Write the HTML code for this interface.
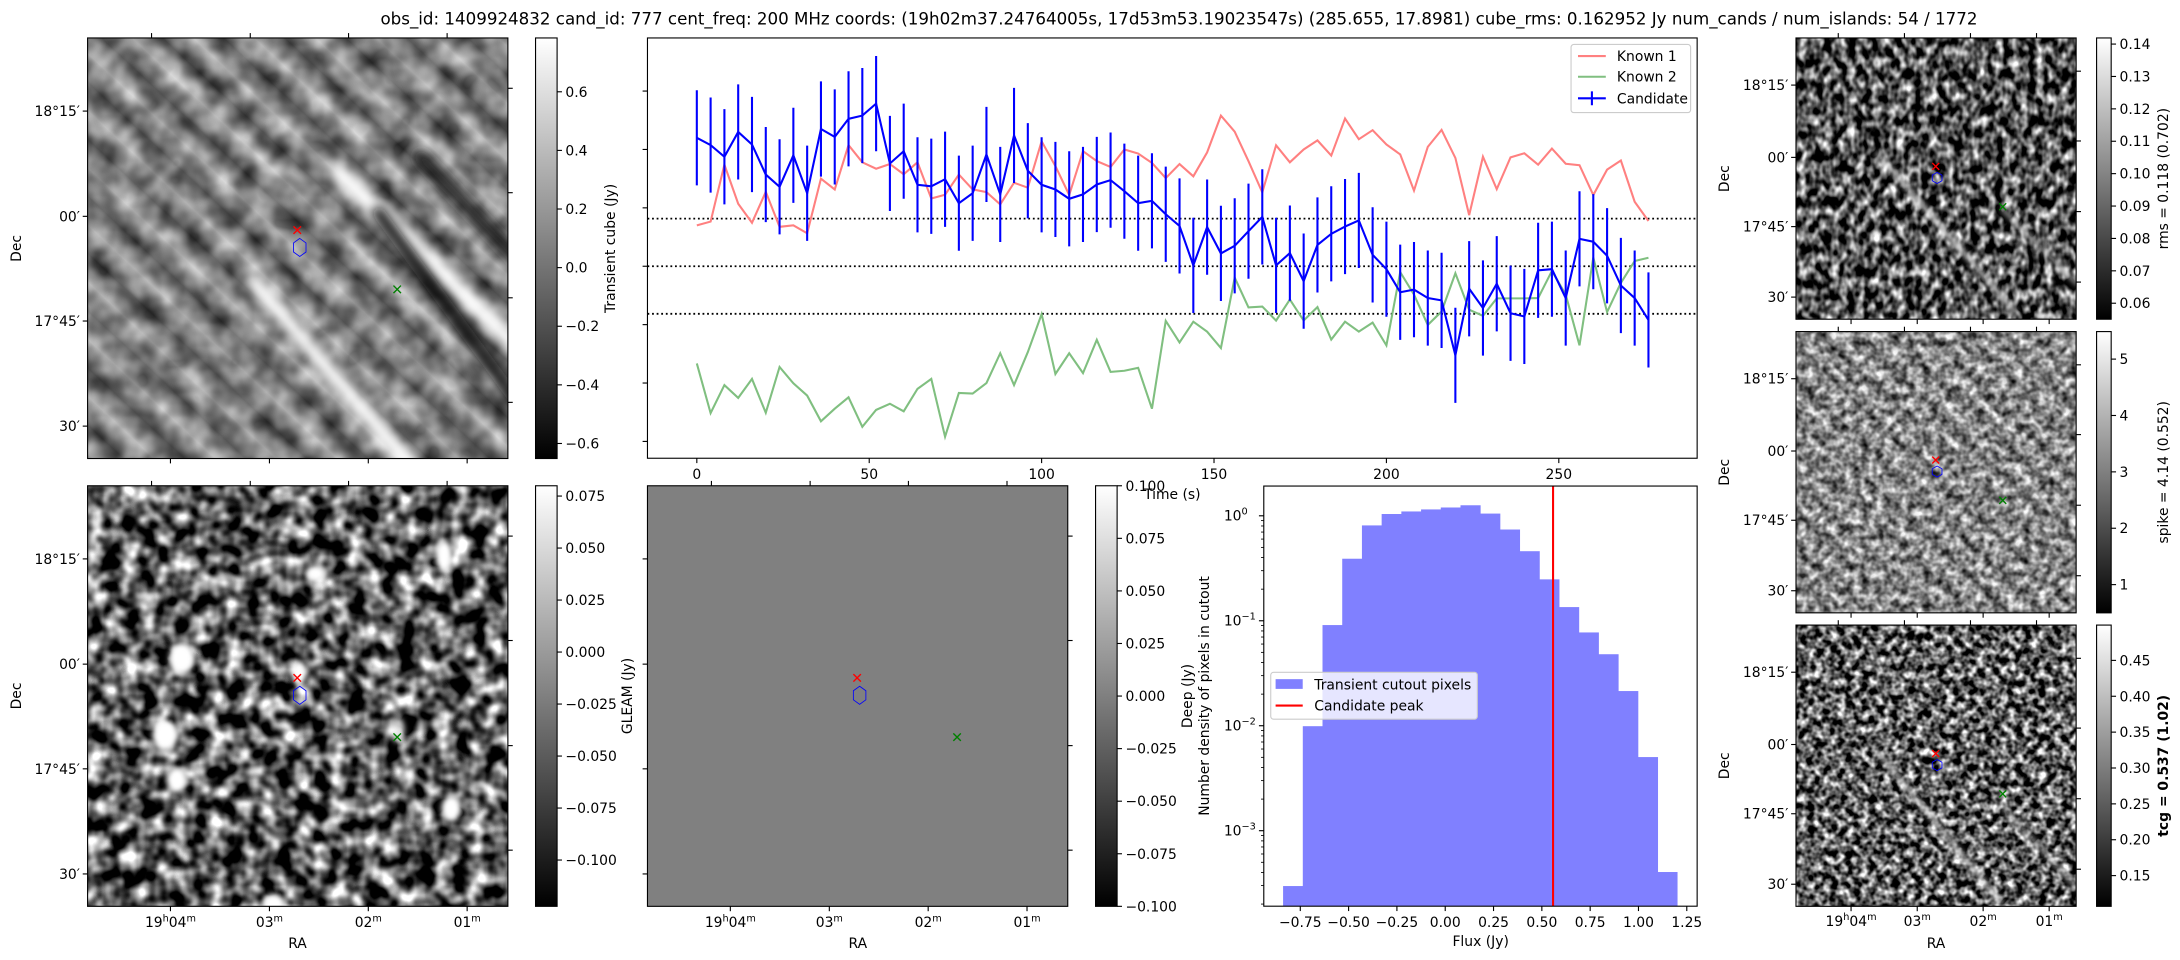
<!DOCTYPE html>
<html><head><meta charset="utf-8"><title>Candidate summary</title>
<style>
html,body{margin:0;padding:0;background:#fff;}
svg{display:block;font-family:"DejaVu Sans","Liberation Sans",sans-serif;}
text{fill:#000;}
</style></head>
<body>
<svg id="fig" width="2180" height="960" viewBox="0 0 1568 690.5" preserveAspectRatio="none" xmlns="http://www.w3.org/2000/svg">
<defs>
 <filter id="nB" x="0" y="0" width="100%" height="100%" color-interpolation-filters="sRGB">
  <feTurbulence type="fractalNoise" baseFrequency="0.08" numOctaves="2" seed="3"/>
  <feColorMatrix type="matrix" values="2.3 0 0 0 -0.78  2.3 0 0 0 -0.78  2.3 0 0 0 -0.78  0 0 0 0 1"/>
 </filter>
 <filter id="nA" x="0" y="0" width="100%" height="100%" color-interpolation-filters="sRGB">
  <feTurbulence type="fractalNoise" baseFrequency="0.06" numOctaves="2" seed="7"/>
  <feColorMatrix type="matrix" values="2.0 0 0 0 -0.5  2.0 0 0 0 -0.5  2.0 0 0 0 -0.5  0 0 0 0 1"/>
 </filter>
 <filter id="nR1" x="0" y="0" width="100%" height="100%" color-interpolation-filters="sRGB">
  <feTurbulence type="fractalNoise" baseFrequency="0.17 0.12" numOctaves="2" seed="11"/>
  <feColorMatrix type="matrix" values="2.2 0 0 0 -0.78  2.2 0 0 0 -0.78  2.2 0 0 0 -0.78  0 0 0 0 1"/>
 </filter>
 <filter id="nR2" x="0" y="0" width="100%" height="100%" color-interpolation-filters="sRGB">
  <feTurbulence type="fractalNoise" baseFrequency="0.18" numOctaves="2" seed="5"/>
  <feColorMatrix type="matrix" values="1.7 0 0 0 -0.3  1.7 0 0 0 -0.3  1.7 0 0 0 -0.3  0 0 0 0 1"/>
 </filter>
 <filter id="nR3" x="0" y="0" width="100%" height="100%" color-interpolation-filters="sRGB">
  <feTurbulence type="fractalNoise" baseFrequency="0.18" numOctaves="2" seed="21"/>
  <feColorMatrix type="matrix" values="2.3 0 0 0 -0.78  2.3 0 0 0 -0.78  2.3 0 0 0 -0.78  0 0 0 0 1"/>
 </filter>
 <filter id="blur3"><feGaussianBlur stdDeviation="4"/></filter>
 <filter id="blur2"><feGaussianBlur stdDeviation="2"/></filter>
 <linearGradient id="cbar" x1="0" y1="1" x2="0" y2="0"><stop offset="0" stop-color="#000"/><stop offset="1" stop-color="#fff"/></linearGradient>
 <linearGradient id="stripeA" gradientUnits="userSpaceOnUse" x1="0" y1="0" x2="20.5" y2="-21.9" spreadMethod="repeat">
  <stop offset="0" stop-color="#3a3a3a"/><stop offset="0.5" stop-color="#c4c4c4"/><stop offset="1" stop-color="#3a3a3a"/>
 </linearGradient>
 <linearGradient id="stripeM" gradientUnits="userSpaceOnUse" x1="0" y1="0" x2="12" y2="-12.8" spreadMethod="repeat">
  <stop offset="0" stop-color="#000" stop-opacity="0.3"/><stop offset="0.5" stop-color="#fff" stop-opacity="0.15"/><stop offset="1" stop-color="#000" stop-opacity="0.3"/>
 </linearGradient>
 <clipPath id="cA"><rect x="63" y="27.3" width="302.3" height="302.5"/></clipPath>
 <clipPath id="cB"><rect x="63" y="349.4" width="302.3" height="302.5"/></clipPath>
 <clipPath id="cR1"><rect x="1291.8" y="27.3" width="201.5" height="202.3"/></clipPath>
 <clipPath id="cR2"><rect x="1291.8" y="238.5" width="201.5" height="202.3"/></clipPath>
 <clipPath id="cR3"><rect x="1291.8" y="449.6" width="201.5" height="202.3"/></clipPath>
</defs>

<text x="848" y="17.5" font-size="12" text-anchor="middle">obs_id: 1409924832 cand_id: 777 cent_freq: 200 MHz coords: (19h02m37.24764005s, 17d53m53.19023547s) (285.655, 17.8981) cube_rms: 0.162952 Jy num_cands / num_islands: 54 / 1772</text>

<g clip-path="url(#cA)">
 <rect x="63" y="27.3" width="302.3" height="302.5" fill="url(#stripeA)"/>
 <rect x="63" y="27.3" width="302.3" height="302.5" filter="url(#nA)" opacity="0.35"/>
 <line x1="240" y1="120" x2="380" y2="258" stroke="#fff" stroke-width="12" filter="url(#blur3)"/>
 <line x1="180" y1="200" x2="300" y2="340" stroke="#fff" stroke-width="11" filter="url(#blur3)"/>
 <line x1="270" y1="150" x2="380" y2="300" stroke="#111" stroke-width="9" filter="url(#blur3)"/>
 <line x1="300" y1="110" x2="380" y2="195" stroke="#222" stroke-width="8" filter="url(#blur3)"/>
</g>
<rect x="63" y="27.3" width="302.3" height="302.5" fill="none" stroke="#000" stroke-width="0.8"/>

<g clip-path="url(#cB)">
 <rect x="63" y="349.4" width="302.3" height="302.5" filter="url(#nB)"/>
 <g fill="#fff" filter="url(#blur2)">
  <ellipse cx="130.8" cy="473.6" rx="9" ry="11"/>
  <ellipse cx="118.7" cy="528.7" rx="9" ry="11"/>
  <ellipse cx="127.2" cy="561" rx="7" ry="9"/>
  <ellipse cx="227" cy="412.5" rx="7" ry="6"/>
  <ellipse cx="319.4" cy="400" rx="6" ry="11"/>
  <ellipse cx="324.6" cy="581.5" rx="7" ry="9"/>
  <ellipse cx="196.8" cy="650" rx="8" ry="7"/>
  <ellipse cx="286" cy="525" rx="5" ry="9" opacity="0.8"/>
  <ellipse cx="215" cy="484" rx="5" ry="8"/>
 </g>
</g>
<rect x="63" y="349.4" width="302.3" height="302.5" fill="none" stroke="#000" stroke-width="0.8"/>

<rect x="465.7" y="349.4" width="302.3" height="302.5" fill="#808080" stroke="#000" stroke-width="0.8"/>

<g clip-path="url(#cR1)">
 <rect x="1291.8" y="27.3" width="201.5" height="202.3" filter="url(#nR1)"/>
 <line x1="1350" y1="110" x2="1450" y2="225" stroke="#ddd" stroke-width="3" filter="url(#blur2)"/>
 <line x1="1440" y1="150" x2="1495" y2="205" stroke="#bbb" stroke-width="2.5" filter="url(#blur2)"/>
</g>
<rect x="1291.8" y="27.3" width="201.5" height="202.3" fill="none" stroke="#000" stroke-width="0.8"/>
<g clip-path="url(#cR2)">
 <rect x="1291.8" y="238.5" width="201.5" height="202.3" filter="url(#nR2)"/>
 <rect x="1291.8" y="238.5" width="201.5" height="202.3" fill="url(#stripeM)"/>
</g>
<rect x="1291.8" y="238.5" width="201.5" height="202.3" fill="none" stroke="#000" stroke-width="0.8"/>
<g clip-path="url(#cR3)">
 <rect x="1291.8" y="449.6" width="201.5" height="202.3" filter="url(#nR3)"/>
 <line x1="1350" y1="540" x2="1440" y2="650" stroke="#ccc" stroke-width="3" filter="url(#blur2)"/>
 <line x1="1440" y1="580" x2="1495" y2="640" stroke="#aaa" stroke-width="2.5" filter="url(#blur2)"/>
</g>
<rect x="1291.8" y="449.6" width="201.5" height="202.3" fill="none" stroke="#000" stroke-width="0.8"/>

<g id="markers"></g>
<g id="axes" font-size="10"></g>
<g id="cbars" font-size="10"></g>

<text transform="translate(15,178.7) rotate(-90)" font-size="10" text-anchor="middle">Dec</text>
<text transform="translate(15,500.6) rotate(-90)" font-size="10" text-anchor="middle">Dec</text>
<text x="214" y="682" font-size="10" text-anchor="middle">RA</text>
<text x="617" y="682" font-size="10" text-anchor="middle">RA</text>
<text x="1392.5" y="682" font-size="10" text-anchor="middle">RA</text>
<text transform="translate(442.5,178.7) rotate(-90)" font-size="10" text-anchor="middle">Transient cube (Jy)</text>
<text transform="translate(454.5,500.6) rotate(-90)" font-size="10" text-anchor="middle">GLEAM (Jy)</text>
<text transform="translate(1243.5,128.5) rotate(-90)" font-size="10" text-anchor="middle">Dec</text>
<text transform="translate(1243.5,339.7) rotate(-90)" font-size="10" text-anchor="middle">Dec</text>
<text transform="translate(1243.5,550.8) rotate(-90)" font-size="10" text-anchor="middle">Dec</text>
<text transform="translate(1559.5,128.5) rotate(-90)" font-size="10" text-anchor="middle">rms = 0.118 (0.702)</text>
<text transform="translate(1559.5,339.7) rotate(-90)" font-size="10" text-anchor="middle">spike = 4.14 (0.552)</text>
<text transform="translate(1559.5,550.8) rotate(-90)" font-size="10" font-weight="bold" text-anchor="middle">tcg = 0.537 (1.02)</text>

<g id="lc" font-size="10">
 <rect x="465.7" y="27.3" width="755" height="302.3" fill="#fff" stroke="none"/>
</g>
<text x="843.2" y="359" font-size="10" text-anchor="middle">Time (s)</text>

<g id="hist" font-size="10"></g>
<text transform="translate(869.5,500.6) rotate(-90)" font-size="10" text-anchor="middle">Number density of pixels in cutout</text>
<text transform="translate(857.5,500.6) rotate(-90)" font-size="10" text-anchor="middle">Deep (Jy)</text>
<text x="1065" y="680.5" font-size="10" text-anchor="middle">Flux (Jy)</text>
</svg>

<script>
const times = [0,4,8,12,16,20,24,28,32,36,40,44,48,52,56,60,64,68,72,76,80,84,88,92,96,100,104,108,112,116,120,124,128,132,136,140,144,148,152,156,160,164,168,172,176,180,184,188,192,196,200,204,208,212,216,220,224,228,232,236,240,244,248,252,256,260,264,268,272,276];
const known1 = [0.14,0.153,0.348,0.214,0.149,0.255,0.135,0.14,0.113,0.3,0.263,0.415,0.356,0.334,0.35,0.315,0.356,0.232,0.245,0.314,0.263,0.254,0.212,0.286,0.269,0.428,0.343,0.244,0.394,0.36,0.34,0.4,0.386,0.354,0.302,0.35,0.308,0.39,0.516,0.461,0.36,0.253,0.414,0.356,0.4,0.431,0.379,0.506,0.435,0.466,0.417,0.383,0.259,0.409,0.467,0.371,0.175,0.375,0.264,0.373,0.387,0.348,0.403,0.351,0.346,0.244,0.331,0.362,0.221,0.155];
const known2 = [-0.333,-0.503,-0.407,-0.451,-0.386,-0.502,-0.345,-0.401,-0.443,-0.531,-0.488,-0.449,-0.55,-0.492,-0.471,-0.497,-0.42,-0.386,-0.584,-0.434,-0.436,-0.4,-0.298,-0.407,-0.294,-0.164,-0.369,-0.298,-0.366,-0.252,-0.362,-0.358,-0.348,-0.488,-0.187,-0.261,-0.19,-0.224,-0.28,-0.039,-0.141,-0.138,-0.186,-0.114,-0.186,-0.14,-0.251,-0.19,-0.224,-0.193,-0.271,-0.02,-0.097,-0.201,-0.155,-0.024,-0.149,-0.17,-0.11,-0.11,-0.11,-0.109,-0.016,-0.097,-0.271,0.03,-0.157,-0.057,0.018,0.029];
const candidate = [0.44,0.415,0.375,0.46,0.417,0.314,0.272,0.38,0.25,0.47,0.443,0.505,0.516,0.557,0.352,0.394,0.279,0.274,0.298,0.216,0.25,0.383,0.246,0.448,0.327,0.279,0.263,0.231,0.246,0.28,0.295,0.257,0.216,0.224,0.178,0.138,0.003,0.134,0.044,0.07,0.12,0.169,0.003,0.045,-0.051,0.073,0.111,0.136,0.157,0.039,-0.01,-0.089,-0.08,-0.109,-0.117,-0.305,-0.077,-0.143,-0.06,-0.161,-0.172,-0.014,-0.01,-0.109,0.094,0.084,0.036,-0.066,-0.109,-0.184];
const candErr = 0.163;
const cubeRms = 0.163;
const lcXTicks = [0,50,100,150,200,250];
const lcYTicks = [0.6,0.4,0.2,0.0,-0.2,-0.4,-0.6];

const binEdges = [-0.839,-0.737,-0.635,-0.533,-0.431,-0.329,-0.227,-0.125,-0.023,0.079,0.181,0.283,0.385,0.487,0.589,0.691,0.793,0.895,0.997,1.099,1.2];
const densities = [2.97e-4,0.0099,0.091,0.39,0.81,1.04,1.10,1.15,1.20,1.26,1.05,0.74,0.46,0.248,0.135,0.0774,0.048,0.0214,0.00503,4.04e-4];
const candidatePeak = 0.558;
const histXTicks = [-0.75,-0.5,-0.25,0,0.25,0.5,0.75,1.0,1.25];
const histXTickLabels = ["\u22120.75","\u22120.50","\u22120.25","0.00","0.25","0.50","0.75","1.00","1.25"];
const histYDecades = [0,-1,-2,-3];

const NS = 'http://www.w3.org/2000/svg';
function el(tag, parent){ const e = document.createElementNS(NS, tag); parent.appendChild(e); return e; }
function fmtNeg(s){ return s.replace('-', '\u2212'); }

const LC = {l:465.7, r:1220.7, t:27.3, b:329.6};
function lcX(t){ return 501.2 + 2.48 * t; }
function lcY(v){ return 191.5 - 210 * v; }
const H = {l:909, r:1220.7, t:349.6, b:651.8};
function hX(f){ return 1039.5 + 139 * f; }
function hY(d){ return 371 - 75.5 * Math.log10(d); }

(function(){
 const g = document.getElementById('lc');
 [cubeRms, 0, -cubeRms].forEach(function(v){
  const ln = el('line', g);
  
  
  ln.setAttribute('x1', LC.l); ln.setAttribute('x2', LC.r);
  ln.setAttribute('y1', lcY(v)); ln.setAttribute('y2', lcY(v));
  ln.setAttribute('stroke', '#000'); ln.setAttribute('stroke-width', '1.3'); ln.setAttribute('stroke-dasharray', '1.3 2');
 });
 function series(vals, color, name){
  const p = el('polyline', g);
  
  
  p.setAttribute('points', vals.map(function(v,i){ return lcX(times[i]).toFixed(2)+','+lcY(v).toFixed(2); }).join(' '));
  p.setAttribute('fill', 'none'); p.setAttribute('stroke', color); p.setAttribute('stroke-width', '1.5');
 }
 series(known1, '#ff8080', 'known-1-line');
 series(known2, '#80bf80', 'known-2-line');
 candidate.forEach(function(v,i){
  const e = el('line', g);
  
  
  e.setAttribute('x1', lcX(times[i])); e.setAttribute('x2', lcX(times[i]));
  e.setAttribute('y1', lcY(v + candErr)); e.setAttribute('y2', lcY(v - candErr));
  e.setAttribute('stroke', '#0000ff'); e.setAttribute('stroke-width', '1.5');
 });
 series(candidate, '#0000ff', 'candidate-line');
 const frame = el('rect', g);
 
 
 frame.setAttribute('x', LC.l); frame.setAttribute('y', LC.t); frame.setAttribute('width', LC.r-LC.l); frame.setAttribute('height', LC.b-LC.t);
 frame.setAttribute('fill', 'none'); frame.setAttribute('stroke', '#000'); frame.setAttribute('stroke-width', '0.8');
 lcXTicks.forEach(function(t){
  const tk = el('line', g);
  
  
  tk.setAttribute('x1', lcX(t)); tk.setAttribute('x2', lcX(t)); tk.setAttribute('y1', LC.b); tk.setAttribute('y2', LC.b+3.5);
  tk.setAttribute('stroke', '#000'); tk.setAttribute('stroke-width', '0.8');
  const tx = el('text', g);
  
  
  tx.setAttribute('x', lcX(t)); tx.setAttribute('y', LC.b+15); tx.setAttribute('text-anchor', 'middle');
  tx.textContent = String(t);
 });
 lcYTicks.forEach(function(v){
  const tk = el('line', g);
  
  
  tk.setAttribute('x1', LC.l-3.5); tk.setAttribute('x2', LC.l); tk.setAttribute('y1', lcY(v)); tk.setAttribute('y2', lcY(v));
  tk.setAttribute('stroke', '#000'); tk.setAttribute('stroke-width', '0.8');
 });
 const lg = el('g', g);
 
 
 const box = el('rect', lg);
 box.setAttribute('x', 1130); box.setAttribute('y', 32); box.setAttribute('width', 86); box.setAttribute('height', 49); box.setAttribute('rx', 2);
 box.setAttribute('fill', '#fff'); box.setAttribute('fill-opacity', '0.8'); box.setAttribute('stroke', '#ccc'); box.setAttribute('stroke-width', '0.8');
 const items = [['Known 1','#ff8080',40.3,false],['Known 2','#80bf80',55.2,false],['Candidate','#0000ff',70.7,true]];
 items.forEach(function(it){
  const ln = el('line', lg);
  
  
  ln.setAttribute('x1', 1135); ln.setAttribute('x2', 1155); ln.setAttribute('y1', it[2]); ln.setAttribute('y2', it[2]);
  ln.setAttribute('stroke', it[1]); ln.setAttribute('stroke-width', '1.5');
  if (it[3]) {
   const v = el('line', lg);
   v.setAttribute('x1', 1145); v.setAttribute('x2', 1145); v.setAttribute('y1', it[2]-5); v.setAttribute('y2', it[2]+5);
   v.setAttribute('stroke', it[1]); v.setAttribute('stroke-width', '1.5');
  }
  const tx = el('text', lg);
  
  
  tx.setAttribute('x', 1163); tx.setAttribute('y', it[2]+3.6);
  tx.textContent = it[0];
 });
})();

(function(){
 const g = document.getElementById('hist');
 const bg = el('rect', g);
 bg.setAttribute('x', H.l); bg.setAttribute('y', H.t); bg.setAttribute('width', H.r-H.l); bg.setAttribute('height', H.b-H.t); bg.setAttribute('fill', '#fff');
 densities.forEach(function(d,i){
  const r = el('rect', g);
  
  
  const x0 = hX(binEdges[i]), x1 = hX(binEdges[i+1]), y = hY(d);
  r.setAttribute('x', x0); r.setAttribute('width', x1-x0+0.3); r.setAttribute('y', y); r.setAttribute('height', Math.max(0, H.b-y));
  r.setAttribute('fill', '#8080ff');
 });
 const pk = el('line', g);
 
 
 pk.setAttribute('x1', hX(candidatePeak)); pk.setAttribute('x2', hX(candidatePeak)); pk.setAttribute('y1', H.t); pk.setAttribute('y2', H.b);
 pk.setAttribute('stroke', '#ff0000'); pk.setAttribute('stroke-width', '1.5');
 const fr = el('rect', g);
 
 
 fr.setAttribute('x', H.l); fr.setAttribute('y', H.t); fr.setAttribute('width', H.r-H.l); fr.setAttribute('height', H.b-H.t);
 fr.setAttribute('fill', 'none'); fr.setAttribute('stroke', '#000'); fr.setAttribute('stroke-width', '0.8');
 histXTicks.forEach(function(f,i){
  const tk = el('line', g);
  
  
  tk.setAttribute('x1', hX(f)); tk.setAttribute('x2', hX(f)); tk.setAttribute('y1', H.b); tk.setAttribute('y2', H.b+3.5);
  tk.setAttribute('stroke', '#000'); tk.setAttribute('stroke-width', '0.8');
  const tx = el('text', g);
  
  
  tx.setAttribute('x', hX(f)); tx.setAttribute('y', H.b+15); tx.setAttribute('text-anchor', 'middle');
  tx.textContent = histXTickLabels[i];
 });
 histYDecades.forEach(function(p){
  const y = hY(Math.pow(10,p));
  const tk = el('line', g);
  
  
  tk.setAttribute('x1', H.l-3.5); tk.setAttribute('x2', H.l); tk.setAttribute('y1', y); tk.setAttribute('y2', y);
  tk.setAttribute('stroke', '#000'); tk.setAttribute('stroke-width', '0.8');
  const tx = el('text', g);
  
  
  tx.setAttribute('x', H.l-16); tx.setAttribute('y', y+3.5); tx.setAttribute('text-anchor', 'end');
  tx.textContent = '10';
  const sup = el('text', g);
  sup.setAttribute('x', H.l-16); sup.setAttribute('y', y-1); sup.setAttribute('font-size', '7');
  sup.textContent = p === 0 ? '0' : '\u2212' + (-p);
 });
 [-4,-3,-2,-1,0].forEach(function(p){
  for (let k=2;k<=9;k++){
   const y = hY(k*Math.pow(10,p));
   if (y < H.t || y > H.b) continue;
   const tk = el('line', g);
   tk.setAttribute('x1', H.l-2); tk.setAttribute('x2', H.l); tk.setAttribute('y1', y); tk.setAttribute('y2', y);
   tk.setAttribute('stroke', '#000'); tk.setAttribute('stroke-width', '0.6');
  }
 });
 const lg = el('g', g);
 
 
 const box = el('rect', lg);
 box.setAttribute('x', 914); box.setAttribute('y', 483.6); box.setAttribute('width', 148.6); box.setAttribute('height', 33.7); box.setAttribute('rx', 2);
 box.setAttribute('fill', '#fff'); box.setAttribute('fill-opacity', '0.8'); box.setAttribute('stroke', '#ccc'); box.setAttribute('stroke-width', '0.8');
 const pt = el('rect', lg);
 pt.setAttribute('x', 917.5); pt.setAttribute('y', 488.5); pt.setAttribute('width', 19.5); pt.setAttribute('height', 7); pt.setAttribute('fill', '#8080ff');
 const t1 = el('text', lg);
 
 
 t1.setAttribute('x', 945.3); t1.setAttribute('y', 495.8); t1.textContent = 'Transient cutout pixels';
 const l2 = el('line', lg);
 l2.setAttribute('x1', 917.5); l2.setAttribute('x2', 937); l2.setAttribute('y1', 507.5); l2.setAttribute('y2', 507.5); l2.setAttribute('stroke', '#ff0000'); l2.setAttribute('stroke-width', '1.5');
 const t2 = el('text', lg);
 
 
 t2.setAttribute('x', 945.3); t2.setAttribute('y', 511); t2.textContent = 'Candidate peak';
})();

(function(){
 const g = document.getElementById('axes');
 function tick(x1,y1,x2,y2){ const t = el('line', g); t.setAttribute('x1',x1); t.setAttribute('y1',y1); t.setAttribute('x2',x2); t.setAttribute('y2',y2); t.setAttribute('stroke','#000'); t.setAttribute('stroke-width','0.8'); }
 function txt(x,y,s,anchor){ const t = el('text', g); t.setAttribute('x',x); t.setAttribute('y',y); t.setAttribute('text-anchor',anchor); t.textContent = s; return t; }
 function ra(x,y,hasH,parts){
  const t = el('text', g);
  
  
  t.setAttribute('x', x); t.setAttribute('y', y); t.setAttribute('text-anchor', 'middle');
  if (hasH){
   t.appendChild(document.createTextNode('19'));
   const a = document.createElementNS(NS,'tspan'); a.setAttribute('dy','-4'); a.setAttribute('font-size','7'); a.textContent='h'; t.appendChild(a);
   const b = document.createElementNS(NS,'tspan'); b.setAttribute('dy','4'); b.textContent='04'; t.appendChild(b);
  } else {
   const b = document.createElementNS(NS,'tspan'); b.textContent=parts; t.appendChild(b);
  }
  const m = document.createElementNS(NS,'tspan'); m.setAttribute('dy','-4'); m.setAttribute('font-size','7'); m.textContent='m'; t.appendChild(m);
 }
 const decLabels = ['18\u00b015\u2032','00\u2032','17\u00b045\u2032','30\u2032'];
 const big = [{x:63,y:27.3,dec:true,ra:false},{x:63,y:349.4,dec:true,ra:true},{x:465.7,y:349.4,dec:false,ra:true}];
 big.forEach(function(p){
  const L=p.x, T=p.y, R=p.x+302.3, B=p.y+302.5;
  [52.6,128.3,203.6,279.2].forEach(function(dy,i){
   tick(L-3.5,T+dy,L,T+dy);
   if (p.dec){ const t = txt(L-5.5,T+dy+3.6,decLabels[i],'end');   }
  });
  [36.2,111.3,186.9,262.1].forEach(function(dy){ tick(R,T+dy,R+3.5,T+dy); });
  [46,117,187.7,258.6].forEach(function(dx){ tick(L+dx,T-3.5,L+dx,T); });
  [59.6,130.8,201.9,273].forEach(function(dx,i){
   tick(L+dx,B,L+dx,B+3.5);
   if (p.ra){ if(i===0) ra(L+dx,B+15,true); else ra(L+dx,B+15,false,['03','02','01'][i-1]); }
  });
 });
 [27.3,238.5,449.6].forEach(function(T,k){
  const L=1291.8, R=1493.3, B=T+202.3;
  [33.9,85.9,135.7,186.4].forEach(function(dy,i){
   tick(L-3.5,T+dy,L,T+dy);
   const t = txt(L-5.5,T+dy+3.6,decLabels[i],'end');  
  });
  [23.9,74.1,124.9,175.6].forEach(function(dy){ tick(R,T+dy,R+3.5,T+dy); });
  [30.4,78,125.5,173].forEach(function(dx){ tick(L+dx,T-3.5,L+dx,T); });
  [39.6,87.2,134.6,182.1].forEach(function(dx,i){
   tick(L+dx,B,L+dx,B+3.5);
   if (k===2){ if(i===0) ra(L+dx,B+14,true); else ra(L+dx,B+14,false,['03','02','01'][i-1]); }
  });
 });
})();

(function(){
 const g = document.getElementById('markers');
 function cross(x,y,c,s){
  const p = el('path', g);
  
  
  p.setAttribute('d','M'+(x-s)+' '+(y-s)+'L'+(x+s)+' '+(y+s)+'M'+(x-s)+' '+(y+s)+'L'+(x+s)+' '+(y-s));
  p.setAttribute('stroke', c); p.setAttribute('stroke-width','1'); p.setAttribute('fill','none');
 }
 function hex(x,y,w,h){
  const p = el('polygon', g);
  
  
  const pts = [[0,-h/2],[w/2,-h/4],[w/2,h/4],[0,h/2],[-w/2,h/4],[-w/2,-h/4]];
  p.setAttribute('points', pts.map(function(q){return (x+q[0])+','+(y+q[1]);}).join(' '));
  p.setAttribute('stroke','#0000ff'); p.setAttribute('stroke-width','0.6'); p.setAttribute('fill','none');
 }
 [[0,0],[0,322.1],[402.7,322.1]].forEach(function(o){
  cross(213.8+o[0],165.5+o[1],'#ff0000',2.7);
  hex(215.6+o[0],178+o[1],9,13);
  cross(285.7+o[0],208.1+o[1],'#008000',2.7);
 });
 [0,211.2,422.3].forEach(function(dy){
  cross(1392.3,119.7+dy,'#ff0000',2.5);
  hex(1393.3,128+dy,7,8);
  cross(1440.5,148.7+dy,'#008000',2.5);
 });
})();

(function(){
 const g = document.getElementById('cbars');
 const bars = [
  {name:'transient-cube-colorbar', x:385.2, y:27.3, h:302.5, ticks:[0.6,0.4,0.2,0,-0.2,-0.4,-0.6], f:function(v){return 192.5-210.8*v;}, d:1},
  {name:'deep-colorbar', x:385.2, y:349.4, h:302.5, ticks:[0.075,0.05,0.025,0,-0.025,-0.05,-0.075,-0.1], f:function(v){return 469-1496*v;}, d:3},
  {name:'gleam-colorbar', x:788, y:349.4, h:302.5, ticks:[0.1,0.075,0.05,0.025,0,-0.025,-0.05,-0.075,-0.1], f:function(v){return 500.65-1512.5*v;}, d:3},
  {name:'rms-colorbar', x:1508, y:27.3, h:202.3, ticks:[0.14,0.13,0.12,0.11,0.10,0.09,0.08,0.07,0.06], f:function(v){return 31.7+(0.14-v)*2330;}, d:2},
  {name:'spike-colorbar', x:1508, y:238.5, h:202.3, ticks:[5,4,3,2,1], f:function(v){return 258.3+(5-v)*40.55;}, d:0},
  {name:'tcg-colorbar', x:1508, y:449.6, h:202.3, ticks:[0.45,0.40,0.35,0.30,0.25,0.20,0.15], f:function(v){return 475+(0.45-v)*516;}, d:2}
 ];
 bars.forEach(function(b){
  const w = b.x > 1500 ? 10.5 : 15.5;
  const r = el('rect', g);
  
  
  r.setAttribute('x', b.x); r.setAttribute('y', b.y); r.setAttribute('width', w); r.setAttribute('height', b.h);
  r.setAttribute('fill', 'url(#cbar)'); r.setAttribute('stroke', '#000'); r.setAttribute('stroke-width', '0.8');
  b.ticks.forEach(function(v){
   const y = b.f(v);
   const t = el('line', g);
   t.setAttribute('x1', b.x+w); t.setAttribute('x2', b.x+w+3.5); t.setAttribute('y1', y); t.setAttribute('y2', y);
   t.setAttribute('stroke','#000'); t.setAttribute('stroke-width','0.8');
   const tx = el('text', g);
   
   
   tx.setAttribute('x', b.x+w+6); tx.setAttribute('y', y+3.6);
   tx.textContent = fmtNeg(v.toFixed(b.d));
  });
 });
})();
</script>
</body></html>
